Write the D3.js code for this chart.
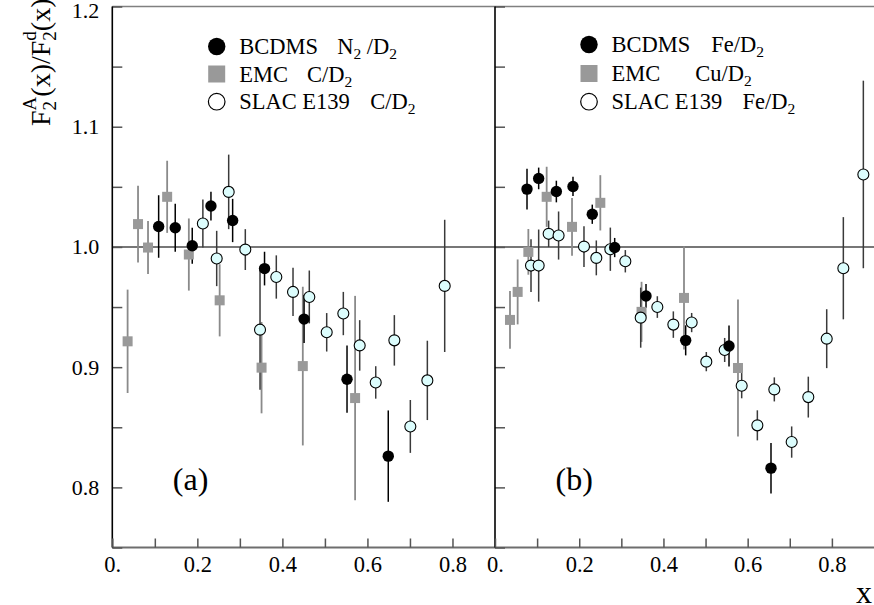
<!DOCTYPE html>
<html>
<head>
<meta charset="utf-8">
<script src="https://cdn.jsdelivr.net/npm/d3@7"></script>
<style>
  html, body { margin: 0; padding: 0; background: #fff; }
  svg { display: block; }
  svg text { font-family: "Liberation Serif", "Times New Roman", Times, "Nimbus Roman", "DejaVu Serif", serif !important; fill: #000; }
</style>
</head>
<body>
<svg id="chart" width="874" height="605"></svg>
<script>
// ---- Tick values and labels ----
const yTickValues = [0.75, 0.8, 0.85, 0.9, 0.95, 1.0, 1.05, 1.1, 1.15, 1.2];
const yTickLabels = ["", "0.8", "", "0.9", "", "1.0", "", "1.1", "", "1.2"];
const xTickValues = [0, 0.1, 0.2, 0.3, 0.4, 0.5, 0.6, 0.7, 0.8];
const xTickLabels = ["0.", "", "0.2", "", "0.4", "", "0.6", "", "0.8"];

// ---- Panel (a): N2/D2 and C/D2 ----
const aBcdmsX = [0.109, 0.148, 0.188, 0.232, 0.283, 0.358, 0.451, 0.552, 0.649];
const aBcdmsY = [1.017, 1.016, 1.001, 1.034, 1.022, 0.982, 0.940, 0.890, 0.826];
const aBcdmsE = [0.026, 0.020, 0.015, 0.012, 0.018, 0.014, 0.020, 0.028, 0.038];

const aEmcX = [0.036, 0.0605, 0.084, 0.129, 0.180, 0.2525, 0.351, 0.448, 0.571];
const aEmcY = [0.9215, 1.019, 0.9995, 1.0417, 0.9937, 0.9556, 0.8996, 0.9009, 0.8743];
const aEmcE = [0.043, 0.032, 0.022, 0.030, 0.030, 0.030, 0.038, 0.066, 0.085];

const aSlacX = [0.213, 0.2455, 0.2737, 0.3128, 0.3474, 0.3857, 0.425, 0.4633, 0.5042,
                0.5433, 0.5818, 0.6195, 0.6633, 0.7009, 0.7409, 0.7817];
const aSlacY = [1.0195, 0.9904, 1.0458, 0.9978, 0.9312, 0.975, 0.9626, 0.9584, 0.929,
                0.9446, 0.9181, 0.8873, 0.9223, 0.8507, 0.889, 0.9676];
const aSlacE = [0.020, 0.023, 0.031, 0.017, 0.050, 0.018, 0.020, 0.022, 0.016,
                0.018, 0.021, 0.0135, 0.021, 0.022, 0.033, 0.055];

// ---- Panel (b): Fe/D2 and Cu/D2 ----
const bBcdmsX = [0.076, 0.1037, 0.1457, 0.1852, 0.231, 0.2842, 0.3586, 0.4528, 0.5557, 0.6554];
const bBcdmsY = [1.0481, 1.057, 1.0461, 1.0503, 1.0272, 0.9995, 0.9592, 0.9223, 0.9176, 0.816];
const bBcdmsE = [0.017, 0.009, 0.009, 0.008, 0.008, 0.008, 0.010, 0.0125, 0.017, 0.021];

const bEmcX = [0.0356, 0.0538, 0.0792, 0.1227, 0.1829, 0.2501, 0.348, 0.4488, 0.577];
const bEmcY = [0.9393, 0.9626, 0.9959, 1.0417, 1.0167, 1.0367, 0.946, 0.9576, 0.8993];
const bEmcE = [0.024, 0.027, 0.019, 0.025, 0.024, 0.023, 0.025, 0.043, 0.057];

const bSlacX = [0.0855, 0.1037, 0.1274, 0.151, 0.2113, 0.2406, 0.2739, 0.3095, 0.346, 0.3855,
                0.4235, 0.467, 0.5018, 0.5454, 0.5858, 0.623, 0.6633, 0.7045, 0.744, 0.7877,
                0.8272, 0.8747];
const bSlacY = [0.9845, 0.9845, 1.0109, 1.0095, 1.0003, 0.9909, 0.9981, 0.9881, 0.9412, 0.950,
                0.9354, 0.9371, 0.9046, 0.9143, 0.8846, 0.8516, 0.8815, 0.8377, 0.8751, 0.9237,
                0.9823, 1.0603];
const bSlacE = [0.022, 0.030, 0.011, 0.020, 0.017, 0.0145, 0.018, 0.0093, 0.025, 0.009,
                0.011, 0.008, 0.008, 0.010, 0.0105, 0.0125, 0.010, 0.013, 0.017, 0.0245,
                0.0425, 0.078];

// ---- Legend text (name, then target text with subscripts) ----
const legendA = [["BCDMS", "N", "2", " /D", "2"], ["EMC", "C/D", "2"], ["SLAC E139", "C/D", "2"]];
const legendB = [["BCDMS", "Fe/D", "2"], ["EMC", "Cu/D", "2"], ["SLAC E139", "Fe/D", "2"]];

const zip = (xs, ys, es) => xs.map((x, i) => ({ x, y: ys[i], e: es[i] }));

const SERIF = '"Liberation Serif", "Times New Roman", Times, "DejaVu Serif", serif';
const svg = d3.select("#chart").attr("font-family", SERIF);

const y = d3.scaleLinear().domain([0.75, 1.2]).range([547.5, 6.5]);
const panels = [
  {
    x: d3.scaleLinear().domain([0, 0.9]).range([112.3, 495]),
    bcdms: zip(aBcdmsX, aBcdmsY, aBcdmsE),
    emc: zip(aEmcX, aEmcY, aEmcE),
    slac: zip(aSlacX, aSlacY, aSlacE),
    legend: legendA, label: "(a)", showYLabels: true,
    legendX: 216.7, legendRows: [46.5, 74, 101.7], legendGap: [98, 67.7, 131]
  },
  {
    x: d3.scaleLinear().domain([0, 0.9]).range([495, 874]),
    bcdms: zip(bBcdmsX, bBcdmsY, bBcdmsE),
    emc: zip(bEmcX, bEmcY, bEmcE),
    slac: zip(bSlacX, bSlacY, bSlacE),
    legend: legendB, label: "(b)", showYLabels: false,
    legendX: 589, legendRows: [44.5, 73.5, 101.7], legendGap: [99.7, 83.7, 131]
  }
];

// frame: top edge and bottom edge
svg.append("line").attr("x1", 112.3).attr("x2", 874).attr("y1", y(1.2)).attr("y2", y(1.2))
  .attr("stroke", "#808080").attr("stroke-width", 1.6);
svg.append("line").attr("x1", 112.3).attr("x2", 874).attr("y1", y(0.75)).attr("y2", y(0.75))
  .attr("stroke", "#6e6e6e").attr("stroke-width", 1.8);

// reference line at ratio = 1
svg.append("line").attr("x1", 112.3).attr("x2", 874).attr("y1", y(1.0)).attr("y2", y(1.0))
  .attr("stroke", "#4a4a4a").attr("stroke-width", 1.5);

panels.forEach(p => {
  const x = p.x;
  const x0 = x.range()[0];

  // y axis (ticks point into the plot)
  const yAxis = d3.axisLeft(y).tickValues(yTickValues)
    .tickFormat((d, i) => p.showYLabels ? yTickLabels[i] : "")
    .tickSizeInner(-10).tickSizeOuter(0).tickPadding(13);
  const gy = svg.append("g").attr("transform", `translate(${x0},0)`).call(yAxis)
    .attr("font-family", SERIF);
  gy.select(".domain").remove();
  gy.selectAll(".tick line").attr("stroke", "#555").attr("stroke-width", 1.5);
  gy.selectAll(".tick text").attr("font-size", 22).attr("fill", "#000")
    .attr("dy", d => d === 1.2 ? "0.52em" : "0.32em");
  svg.append("line").attr("x1", x0).attr("x2", x0).attr("y1", y(1.2)).attr("y2", y(0.75))
    .attr("stroke", "#000").attr("stroke-width", 1.6);

  // x axis (ticks point up)
  const xAxis = d3.axisBottom(x).tickValues(xTickValues)
    .tickFormat((d, i) => xTickLabels[i])
    .tickSizeInner(-9).tickSizeOuter(0).tickPadding(8.5);
  const gx = svg.append("g").attr("transform", `translate(0,${y(0.75)})`).call(xAxis)
    .attr("font-family", SERIF);
  gx.select(".domain").remove();
  gx.selectAll(".tick line").attr("stroke", "#555").attr("stroke-width", 1.5);
  gx.selectAll(".tick text").attr("font-size", 22.5).attr("fill", "#000");

  const g = svg.append("g");

  // error bars
  const bars = (data, color, w) => g.append("g").selectAll("line").data(data).join("line")
    .attr("x1", d => x(d.x)).attr("x2", d => x(d.x))
    .attr("y1", d => y(d.y + d.e)).attr("y2", d => y(d.y - d.e))
    .attr("stroke", color).attr("stroke-width", w);
  bars(p.emc, "#8a8a8a", 1.8);
  bars(p.slac, "#3a3a3a", 1.5);
  bars(p.bcdms, "#000", 1.5);

  // EMC: grey squares
  g.append("g").selectAll("rect").data(p.emc).join("rect")
    .attr("x", d => x(d.x) - 5).attr("y", d => y(d.y) - 5)
    .attr("width", 10).attr("height", 10).attr("fill", "#999");
  // SLAC E139: open circles
  g.append("g").selectAll("circle").data(p.slac).join("circle")
    .attr("cx", d => x(d.x)).attr("cy", d => y(d.y)).attr("r", 5.5)
    .attr("fill", "#dcfdfd").attr("stroke", "#000").attr("stroke-width", 1.1);
  // BCDMS: filled circles
  g.append("g").selectAll("circle").data(p.bcdms).join("circle")
    .attr("cx", d => x(d.x)).attr("cy", d => y(d.y)).attr("r", 5.7)
    .attr("fill", "#000");

  // legend
  const lx = p.legendX;
  const rowsY = p.legendRows;
  const lg = svg.append("g");
  lg.append("circle").attr("cx", lx).attr("cy", rowsY[0]).attr("r", 8.7).attr("fill", "#000");
  lg.append("rect").attr("x", lx - 8.5).attr("y", rowsY[1] - 8.5).attr("width", 17).attr("height", 17).attr("fill", "#999");
  lg.append("circle").attr("cx", lx).attr("cy", rowsY[2]).attr("r", 8.3).attr("fill", "#fff")
    .attr("stroke", "#000").attr("stroke-width", 1.2);

  p.legend.forEach((row, i) => {
    const base = rowsY[i] + 7.5;
    lg.append("text").attr("x", lx + 22.5).attr("y", base).attr("font-size", 22.5).text(row[0]);
    const t = lg.append("text").attr("x", lx + 22.5 + p.legendGap[i]).attr("y", base).attr("font-size", 22.5);
    // alternate between normal text and subscripts
    row.slice(1).forEach((s, k) => {
      const isSub = k % 2 === 1;
      t.append("tspan").attr("font-size", isSub ? 15.5 : 22.5).attr("dy", isSub ? 5 : (k === 0 ? 0 : -5)).text(s);
    });
  });

  // panel label
  svg.append("text").attr("x", x0 + 60.5).attr("y", 490).attr("font-size", 32).text(p.label);
});

// y axis title: F2^A(x)/F2^d(x)
const title = svg.append("text").attr("transform", "translate(50,126) rotate(-90)").attr("font-size", 28);
title.append("tspan").text("F");
title.append("tspan").attr("font-size", 19).attr("dy", 6).text("2");
title.append("tspan").attr("font-size", 19).attr("dx", -9.5).attr("dy", -20).text("A");
title.append("tspan").attr("dy", 14).text("(x)/F");
title.append("tspan").attr("font-size", 19).attr("dy", 6).text("2");
title.append("tspan").attr("font-size", 19).attr("dx", -9.5).attr("dy", -20).text("d");
title.append("tspan").attr("dy", 14).text("(x)");

// x axis title
svg.append("text").attr("x", 864).attr("y", 603).attr("text-anchor", "middle").attr("font-size", 32).text("x");
</script>
</body>
</html>
